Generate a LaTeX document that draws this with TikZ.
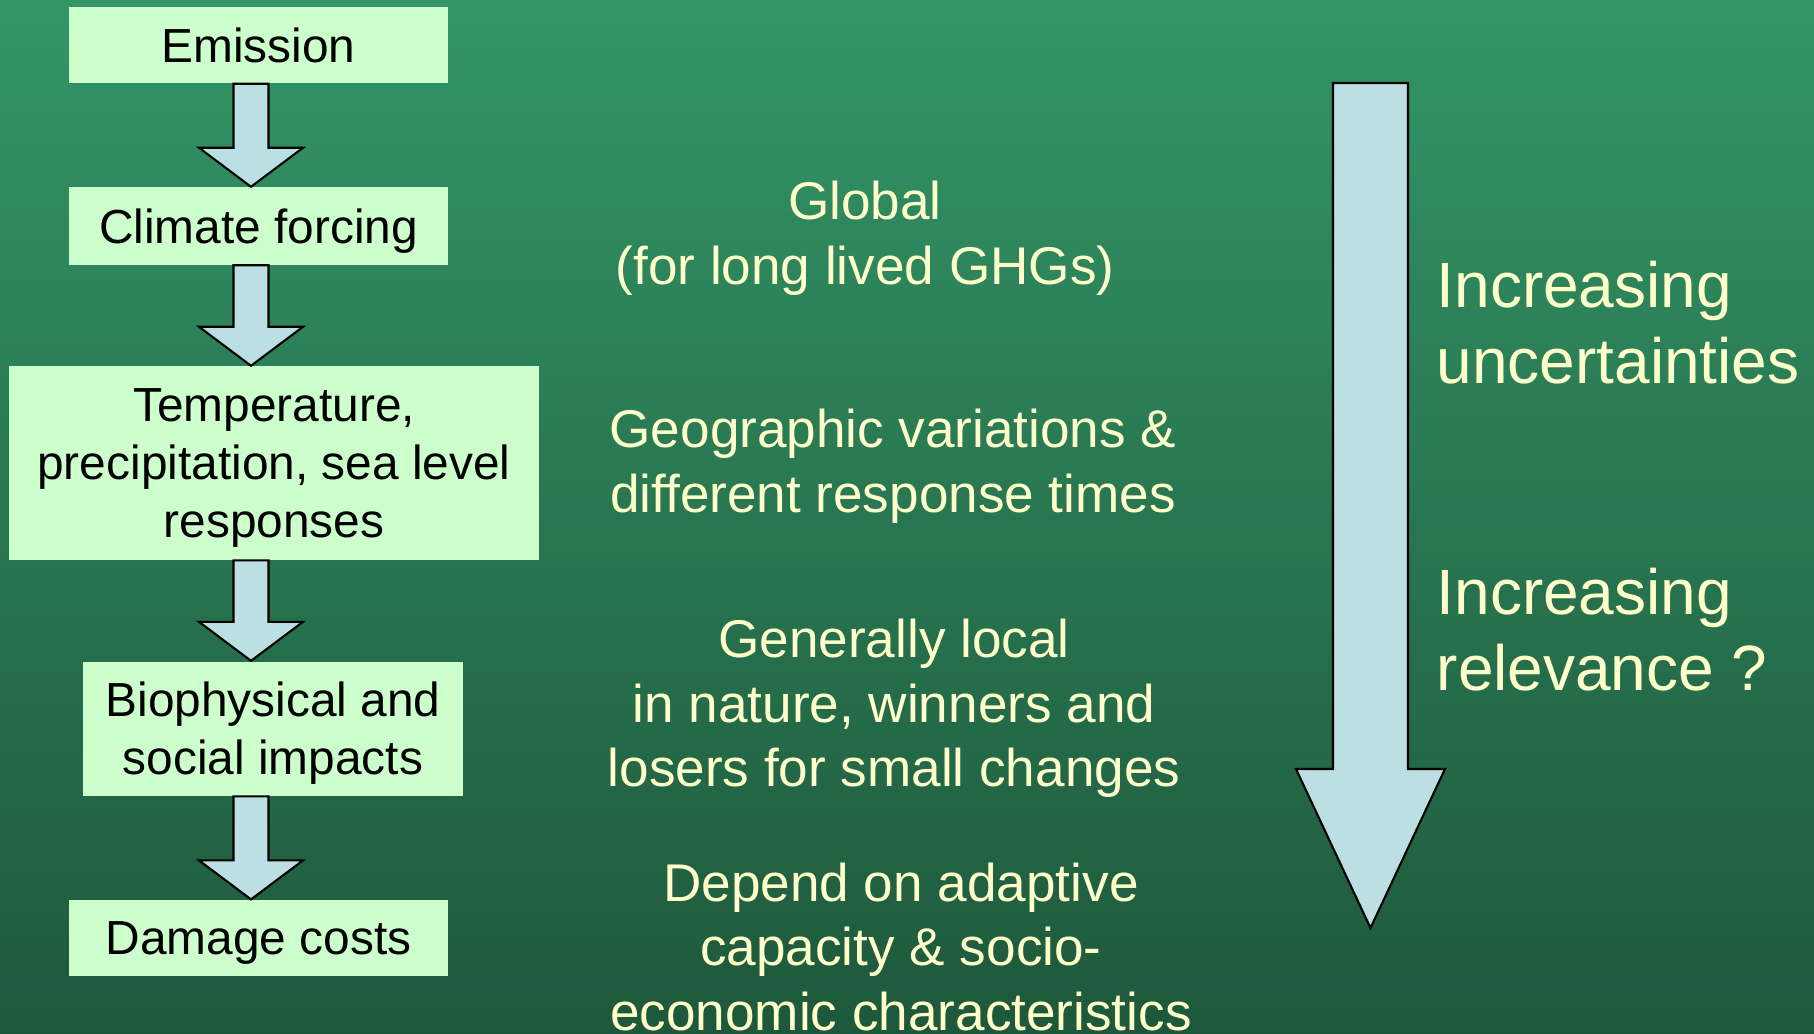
\documentclass[tikz,border=0pt]{standalone}
\usepackage{fontspec}
\setmainfont{Liberation Sans}
\usetikzlibrary{positioning,calc}

\definecolor{bgtop}{RGB}{51,149,102}
\definecolor{bgbot}{RGB}{30,88,60}
\definecolor{boxfill}{RGB}{204,255,204}
\definecolor{arrowfill}{RGB}{187,223,227}
\definecolor{notetext}{RGB}{255,255,204}

\tikzset{
  stage/.style={fill=boxfill, inner sep=0pt, text depth=0pt, align=center, font=\fontsize{13.6}{16.5}\selectfont},
  blockarrow/.style={draw=black, fill=arrowfill, line width=0.6pt, line join=miter},
  note/.style={text=notetext, align=center, font=\fontsize{15.1}{18.4}\selectfont},
  trend/.style={text=notetext, align=left, anchor=west, inner sep=0pt, font=\fontsize{18.2}{21.6}\selectfont}
}

\begin{document}
\begin{tikzpicture}[x=0.01cm, y=-0.01cm]
    % Background
    \shade[top color=bgtop, bottom color=bgbot] (0,0) rectangle (1814,1034);
    \useasboundingbox (0,0) rectangle (1814,1034);

    % Chain of stages
    \node[stage, minimum width=3.79cm, minimum height=0.76cm] (emis) at (258.5,45) {Emission};
    \node[stage, minimum width=3.79cm, minimum height=0.77cm, below=1.03cm of emis] (clim) {Climate forcing};
    \node[stage, minimum width=5.30cm, minimum height=1.93cm, below=1.005cm of clim, xshift=0.155cm] (temp) {Temperature,\\precipitation, sea level\\responses};
    \node[stage, minimum width=3.80cm, minimum height=1.34cm, below=1.005cm of temp, xshift=-0.01cm] (bio) {Biophysical and\\social impacts};
    \node[stage, minimum width=3.79cm, minimum height=0.76cm, below=1.03cm of bio, xshift=-0.145cm] (dmg) {Damage costs};

    % Block arrows between stages
    \coordinate (axis) at ([xshift=-0.075cm]emis.south);
    \foreach \from/\to in {emis/clim, clim/temp, temp/bio, bio/dmg}
        \draw[blockarrow] ($(axis |- \from.south)+(-17.5,0)$) -- ($(axis |- \to.north)+(-17.5,-39)$)
            -- ($(axis |- \to.north)+(-52,-39)$) -- (axis |- \to.north)
            -- ($(axis |- \to.north)+(52,-39)$) -- ($(axis |- \to.north)+(17.5,-39)$)
            -- ($(axis |- \from.south)+(17.5,0)$) -- cycle;

    % Notes
    \node[note] (global) at (865,238.5) {Global\\(for long lived GHGs)};
    \node[note] (geo) at (893,466.5) {Geographic variations \&\\different response times};
    \node[note] (local) at (894,708.5) {Generally local\\in nature, winners and\\losers for small changes};
    \node[note] (adapt) at (901,947) {Depend on adaptive\\capacity \& socio-\\economic characteristics};

    % Big arrow
    \coordinate (trendtop) at (1370.5,83);
    \coordinate (trendtip) at (1370.5,928);
    \draw[blockarrow] ($(trendtop)+(-37.5,0)$) -- ($(trendtip)+(-37.5,-159)$) -- ($(trendtip)+(-74.5,-159)$)
        -- (trendtip) -- ($(trendtip)+(74.5,-159)$) -- ($(trendtip)+(37.5,-159)$) -- ($(trendtop)+(37.5,0)$) -- cycle;

    \node[trend] (uncert) at (1436,323) {Increasing\\uncertainties};
    \node[trend] (relev) at (1436,630) {Increasing\\relevance ?};
\end{tikzpicture}
\end{document}
